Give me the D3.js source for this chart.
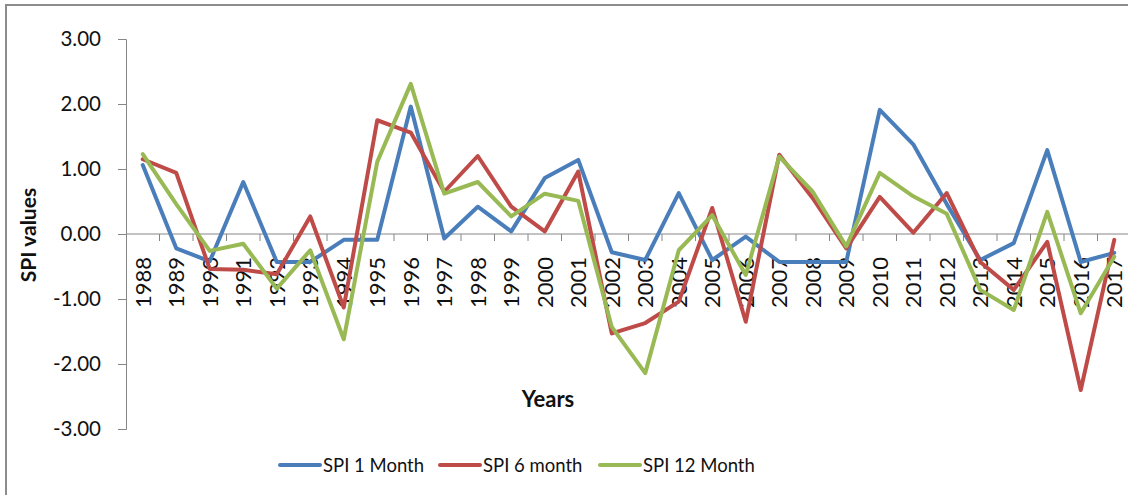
<!DOCTYPE html>
<html>
<head>
<meta charset="utf-8">
<script src="https://cdn.jsdelivr.net/npm/d3@7"></script>
<style>
  body { margin: 0; background: #fff; }
  text { font-family: Lato, "Liberation Sans", sans-serif; fill: #111; }
</style>
</head>
<body>
<div id="chart"></div>
<script>
// chart size
var w = 1128, h = 495;
var margin = {top: 39, left: 126};
var plotW = 1005, plotH = 390;

var years = d3.range(1988, 2018).map(String);
var yTicks = [-3, -2, -1, 0, 1, 2, 3];

var spi1 = [1.06, -0.22, -0.42, 0.80, -0.43, -0.43, -0.09, -0.09, 1.96, -0.07,
    0.42, 0.04, 0.86, 1.14, -0.28, -0.40, 0.63, -0.40, -0.04, -0.43,
    -0.43, -0.43, 1.91, 1.38, 0.46, -0.40, -0.14, 1.29, -0.43, -0.29];
var spi6 = [1.15, 0.94, -0.54, -0.55, -0.62, 0.27, -1.13, 1.75, 1.56, 0.65,
    1.20, 0.42, 0.04, 0.96, -1.53, -1.37, -1.04, 0.40, -1.35, 1.22,
    0.55, -0.22, 0.57, 0.02, 0.63, -0.43, -0.86, -0.12, -2.40, -0.09];
var spi12 = [1.23, 0.46, -0.26, -0.15, -0.84, -0.25, -1.62, 1.11, 2.31, 0.62,
    0.80, 0.27, 0.62, 0.51, -1.43, -2.14, -0.25, 0.29, -0.63, 1.19,
    0.65, -0.19, 0.94, 0.58, 0.31, -0.86, -1.17, 0.34, -1.22, -0.35];

var seriesNames = ["SPI 1 Month", "SPI 6 month", "SPI 12 Month"];
var seriesColors = ["#4a7ebb", "#be4b48", "#98b954"];
var seriesData = [spi1, spi6, spi12];

var svg = d3.select("#chart").append("svg")
    .attr("width", w)
    .attr("height", h);

// outer frame (only top and left edges show)
svg.append("line").attr("x1", 5).attr("x2", w).attr("y1", 5).attr("y2", 5)
    .attr("stroke", "#8c8c8c").attr("stroke-width", 2);
svg.append("line").attr("x1", 6).attr("x2", 6).attr("y1", 5).attr("y2", h)
    .attr("stroke", "#8c8c8c").attr("stroke-width", 2);

var x = d3.scaleBand().domain(years).range([0, plotW]);
var y = d3.scaleLinear().domain([-3, 3]).range([plotH, 0]);

var g = svg.append("g").attr("transform", "translate(" + margin.left + "," + margin.top + ")");

// y axis
var yAxis = g.append("g")
    .call(d3.axisLeft(y).tickValues(yTicks).tickSize(8).tickPadding(17)
        .tickFormat(function(d) { return d.toFixed(2); }));
yAxis.select(".domain").attr("stroke", "#868686");
yAxis.selectAll(".tick line").attr("stroke", "#868686");
yAxis.selectAll("text").style("font-size", "20.5px").attr("fill", "#111");

// x axis on zero line, ticks between categories
var x0 = y(0);
g.append("line").attr("x1", 0).attr("x2", plotW).attr("y1", x0).attr("y2", x0)
    .attr("stroke", "#868686");
g.selectAll(".xtick")
    .data(years.slice(1).concat(["end"]))
    .enter().append("line")
    .attr("class", "xtick")
    .attr("x1", function(d) { return d == "end" ? plotW : x(d); })
    .attr("x2", function(d) { return d == "end" ? plotW : x(d); })
    .attr("y1", x0).attr("y2", x0 + 7)
    .attr("stroke", "#868686");

g.selectAll(".xlabel")
    .data(years)
    .enter().append("text")
    .attr("class", "xlabel")
    .attr("transform", function(d) {
        return "translate(" + (x(d) + x.bandwidth() / 2 + 8) + "," + (x0 + 23) + ") rotate(-90)";
    })
    .attr("text-anchor", "end")
    .style("font-size", "22px")
    .text(function(d) { return d; });

// lines
var line = d3.line()
    .x(function(d, i) { return x(years[i]) + x.bandwidth() / 2; })
    .y(function(d) { return y(d); });

seriesData.forEach(function(s, k) {
    g.append("path")
        .datum(s)
        .attr("fill", "none")
        .attr("stroke", seriesColors[k])
        .attr("stroke-width", 4)
        .attr("stroke-linejoin", "round")
        .attr("stroke-linecap", "round")
        .attr("d", line);
});

// axis titles
svg.append("text")
    .attr("transform", "translate(36,235) rotate(-90)")
    .attr("text-anchor", "middle")
    .style("font-size", "21px")
    .style("font-weight", "bold")
    .text("SPI values");

svg.append("text")
    .attr("x", 548).attr("y", 407)
    .attr("text-anchor", "middle")
    .style("font-size", "22px")
    .style("font-weight", "bold")
    .text("Years");

// legend
var legX = [280, 440, 600];
var leg = svg.selectAll(".leg")
    .data(seriesNames)
    .enter().append("g")
    .attr("class", "leg")
    .attr("transform", function(d, i) { return "translate(" + legX[i] + ",465)"; });
leg.append("line")
    .attr("x1", 0).attr("x2", 40)
    .attr("stroke", function(d, i) { return seriesColors[i]; })
    .attr("stroke-width", 4)
    .attr("stroke-linecap", "round");
leg.append("text")
    .attr("x", 43).attr("y", 7)
    .style("font-size", "18.5px")
    .text(function(d) { return d; });
</script>
</body>
</html>
